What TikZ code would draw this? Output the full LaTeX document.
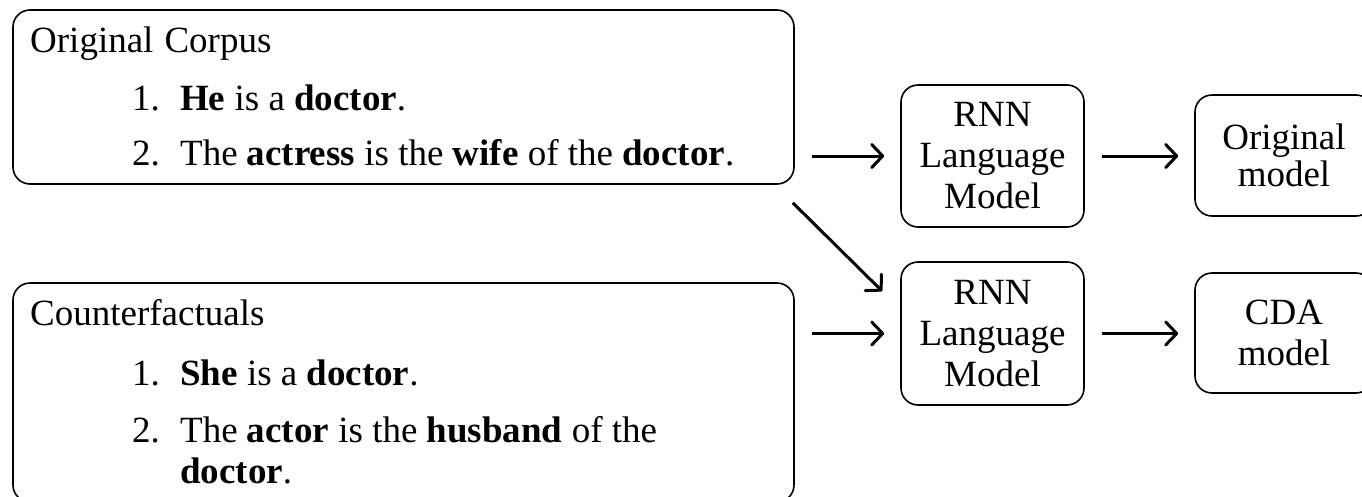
\documentclass[tikz,border=0pt]{standalone}
\usepackage{fontspec}
\setmainfont{Liberation Serif}
\usetikzlibrary{arrows.meta,calc}

\begin{document}
\begin{tikzpicture}[x=1pt,y=-1pt,
  box/.style={draw, line width=1.6pt, rounded corners=17pt, inner sep=0pt, align=center},
  txt/.style={anchor=base west, inner sep=0pt},
  arr/.style={line width=3pt, -{Straight Barb[length=11pt,width=23pt,line cap=round,line join=round]}, shorten <=17pt, shorten >=16pt},
  every node/.append style={font=\fontsize{37}{41}\selectfont}]
  \clip (0,0) rectangle (1362,496);

  % corpus boxes
  \node[box, minimum width=781pt, minimum height=174pt] (corpus) at (403.5,97) {};
  \node[box, minimum width=781pt, minimum height=219pt] (cf) at (403.5,392.5) {};

  \node[txt] (corpusT) at (30,52) {Original\hspace{11pt}Corpus};
  \node[txt] (corpusN1) at (132,110) {1.};
  \node[txt] (corpusI1) at (180,110) {\textbf{He} is a \textbf{doctor}.};
  \node[txt] (corpusN2) at (132,165) {2.};
  \node[txt] (corpusI2) at (180,165) {The \textbf{actress} is the \textbf{wife} of the \textbf{doctor}.};

  \node[txt] (cfT) at (30,325) {Counterfactuals};
  \node[txt] (cfN1) at (132,385) {1.};
  \node[txt] (cfI1) at (180,385) {\textbf{She} is a \textbf{doctor}.};
  \node[txt] (cfN2) at (132,442) {2.};
  \node[txt] (cfI2a) at (180,442) {The \textbf{actor} is the \textbf{husband} of the};
  \node[txt] (cfI2b) at (180,483) {\textbf{doctor}.};

  % language models
  \node[box, minimum width=183pt, minimum height=142pt] (rnnA) at (992.5,156) {RNN\\Language\\Model};
  \node[box, minimum width=183pt, minimum height=143pt] (rnnB) at (992.5,333.5) {RNN\\Language\\Model};

  % resulting models
  \node[box, minimum width=178pt, minimum height=121pt] (orig) at (1284,155.5) {Original\\[-4pt]model};
  \node[box, minimum width=178pt, minimum height=120pt] (cda) at (1284,333) {CDA\\model};

  % connectors
  \draw[arr] (corpus.east |- rnnA.west) -- (rnnA.west);
  \draw[arr] (rnnA.east) -- (orig.west |- rnnA.east);
  \coordinate (diagS) at ($(corpus.south east)+(-2,18)$);
  \coordinate (diagE) at ($(rnnB.north west)+(-18,30)$);
  \draw[arr, shorten <=0pt, shorten >=0pt] (diagS) -- (diagE);
  \draw[arr] (cf.east |- rnnB.west) -- (rnnB.west);
  \draw[arr] (rnnB.east) -- (cda.west |- rnnB.east);
\end{tikzpicture}
\end{document}
